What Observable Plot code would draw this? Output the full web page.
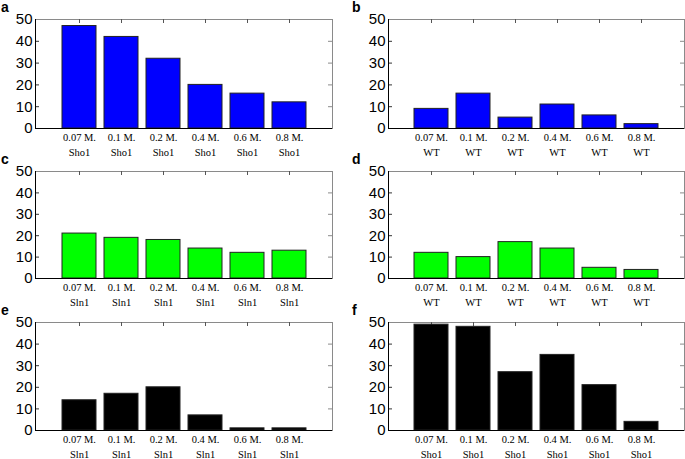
<!DOCTYPE html>
<html>
<head>
<meta charset="utf-8">
<script src="https://cdn.jsdelivr.net/npm/d3@7"></script>
<script src="https://cdn.jsdelivr.net/npm/@observablehq/plot@0.6"></script>
<style>
  html, body { margin: 0; padding: 0; background: #fff; }
  #wrap { position: relative; width: 685px; height: 459px; overflow: hidden; }
  .panel { position: absolute; }
  .letter { position: absolute; font: bold 14px "Liberation Sans", Arial, sans-serif; line-height: 12px; color: #000; }
</style>
</head>
<body>
<div id="wrap"></div>
<script>
// ---- data ----
const concentrations = ["0.07 M.", "0.1 M.", "0.2 M.", "0.4 M.", "0.6 M.", "0.8 M."];
const panelLetters = ["a", "b", "c", "d", "e", "f"];
const strains = ["Sho1", "WT", "Sln1", "WT", "Sln1", "Sho1"];
const valuesA = [47, 42, 32, 20, 16, 12];
const valuesB = [9, 16, 5, 11, 6, 2];
const valuesC = [21, 19, 18, 14, 12, 13];
const valuesD = [12, 10, 17, 14, 5, 4];
const valuesE = [14, 17, 20, 7, 1, 1];
const valuesF = [49, 48, 27, 35, 21, 4];
const yTicks = [0, 10, 20, 30, 40, 50];
const innerTicks = [10, 20, 30, 40];

// ---- styles / layout ----
const panelValues = [valuesA, valuesB, valuesC, valuesD, valuesE, valuesF];
const barColors = ["#0000ff", "#0000ff", "#00ff00", "#00ff00", "#000000", "#000000"];
const rowTops = [0, 152, 303];
const rowHeights = [109, 107, 108];
const cols = [
  {left: 0, width: 342, marginLeft: 35, marginRight: 10, letterX: 1},
  {left: 342, width: 343, marginLeft: 46, marginRight: 1, letterX: 352}
];

const wrap = document.getElementById("wrap");

panelValues.forEach((values, i) => {
  const row = Math.floor(i / 2), col = cols[i % 2];
  const plotH = rowHeights[row];
  const plotW = col.width - col.marginLeft - col.marginRight;
  const marginTop = 19, marginBottom = 30;
  const data = concentrations.map((c, j) => ({c, v: values[j]}));
  const strain = strains[i];
  const chart = Plot.plot({
    width: col.width,
    height: marginTop + plotH + marginBottom,
    marginLeft: col.marginLeft,
    marginRight: col.marginRight,
    marginTop,
    marginBottom,
    style: {background: "transparent", overflow: "visible", color: "#000"},
    x: {type: "band", domain: concentrations, paddingInner: 0.2, paddingOuter: 0.6, axis: null},
    y: {domain: [0, 50], axis: null},
    marks: [
      Plot.frame({stroke: "#8a8a8a", strokeWidth: 1}),
      Plot.tickY(innerTicks, {y: d => d, insetRight: plotW - 4, stroke: "#333"}),
      Plot.tickY(innerTicks, {y: d => d, insetLeft: plotW - 4, stroke: "#8a8a8a"}),
      Plot.tickX(concentrations, {x: d => d, insetBottom: plotH - 4, stroke: "#555"}),
      Plot.barY(data, {x: "c", y: "v", fill: barColors[i], stroke: "#222", strokeWidth: 1}),
      Plot.frame({anchor: "left", stroke: "#000"}),
      Plot.ruleY([0], {stroke: "#000"}),
      Plot.axisY(yTicks, {label: null, tickSize: 0, tickPadding: 3, fontSize: 15, fontFamily: "Liberation Sans, Arial, sans-serif"}),
      Plot.axisX({label: null, tickSize: 0, tickPadding: 2, tickFormat: d => d + "\n" + strain, lineHeight: 1.4, fontSize: 10.5, fontFamily: "Liberation Serif, Times New Roman, serif"})
    ]
  });
  chart.classList.add("panel");
  chart.style.left = col.left + "px";
  chart.style.top = rowTops[row] + "px";
  wrap.appendChild(chart);

  const letter = document.createElement("div");
  letter.className = "letter";
  letter.textContent = panelLetters[i];
  letter.style.left = col.letterX + "px";
  letter.style.top = (rowTops[row] + 1) + "px";
  wrap.appendChild(letter);
});
</script>
</body>
</html>
